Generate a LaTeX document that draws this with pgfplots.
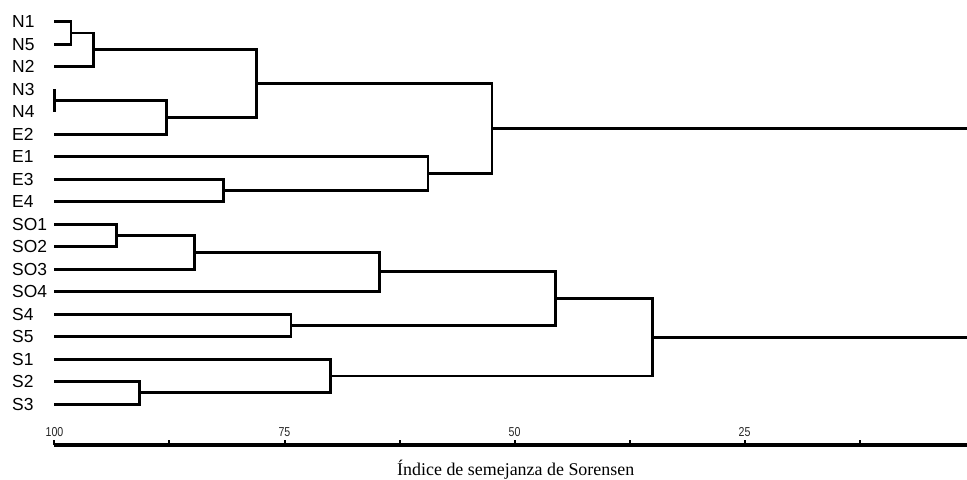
\documentclass[border=0pt]{standalone}
\usepackage{fontspec}
\setmainfont{Liberation Serif}
\newfontfamily\arial{Liberation Sans}
\usepackage{graphicx}
\usepackage{pgfplots}
\pgfplotsset{compat=1.18}
\usetikzlibrary{calc}
\pgfplotsset{dend/.style={black, solid, line width=2.9bp, mark=none, line join=miter}}
\begin{document}
\begin{tikzpicture}
\begin{axis}[
  scale only axis, width=912.5bp, height=434.5bp,
  x dir=reverse, xmin=0.82, xmax=100, ymin=-19.82, ymax=-0.5,
  clip=false,
  axis x line=bottom, axis y line=left,
  x axis line style={-, line width=4bp, black},
  y axis line style={draw=none},
  xtick={25,50,75,100},
  xticklabels={\scalebox{0.82}[1]{25},\scalebox{0.82}[1]{50},\scalebox{0.82}[1]{75},\scalebox{0.82}[1]{100}},
  minor xtick={12.5,37.5,62.5,87.5},
  tick align=inside,
  xtick style={line width=2bp, black},
  major tick length=5bp, minor tick length=5bp,
  ytick={-18,-17,-16,-15,-14,-13,-12,-11,-10,-9,-8,-7,-6,-5,-4,-3,-2,-1},
  ytick style={draw=none},
  yticklabels={S3,S2,S1,S5,S4,SO4,SO3,SO2,SO1,E4,E3,E1,E2,N4,N3,N2,N5,N1},
  yticklabel style={font=\arial\fontsize{17.5}{18}\selectfont, anchor=base west, inner sep=0pt, xshift=-42.5bp, yshift=-6.2bp},
  xticklabel style={font=\arial\fontsize{13}{13}\selectfont, anchor=base, inner sep=0pt, yshift=8.3bp, text=black!85},
  xlabel={Índice de semejanza de Sorensen},
  xlabel style={font=\fontsize{18}{20}\selectfont, at={(axis description cs:0.5,0)}, anchor=base, yshift=-30bp, xshift=5bp},
]
% N / E cluster
\addplot[dend] coordinates {(100,-1) (98.21,-1) (98.21,-2) (100,-2)};
\addplot[dend] coordinates {(98.21,-1.5) (95.78,-1.5) (95.78,-3) (100,-3)};
\addplot[dend] coordinates {(100,-4) (100,-5)};
\addplot[dend] coordinates {(100,-4.5) (87.80,-4.5) (87.80,-6) (100,-6)};
\addplot[dend] coordinates {(95.78,-2.25) (78.02,-2.25) (78.02,-5.25) (87.80,-5.25)};
\addplot[dend] coordinates {(100,-8) (81.65,-8) (81.65,-9) (100,-9)};
\addplot[dend] coordinates {(100,-7) (59.40,-7) (59.40,-8.5) (81.65,-8.5)};
\addplot[dend] coordinates {(78.02,-3.75) (52.45,-3.75) (52.45,-7.75) (59.40,-7.75)};
\addplot[dend] coordinates {(52.45,-5.75) (0.82,-5.75)};
% SO / S cluster
\addplot[dend] coordinates {(100,-10) (93.24,-10) (93.24,-11) (100,-11)};
\addplot[dend] coordinates {(93.24,-10.5) (84.80,-10.5) (84.80,-12) (100,-12)};
\addplot[dend] coordinates {(84.80,-11.25) (64.70,-11.25) (64.70,-13) (100,-13)};
\addplot[dend] coordinates {(100,-14) (74.29,-14) (74.29,-15) (100,-15)};
\addplot[dend] coordinates {(64.70,-12.125) (45.52,-12.125) (45.52,-14.5) (74.29,-14.5)};
\addplot[dend] coordinates {(100,-17) (90.78,-17) (90.78,-18) (100,-18)};
\addplot[dend] coordinates {(100,-16) (69.98,-16) (69.98,-17.5) (90.78,-17.5)};
\addplot[dend] coordinates {(45.52,-13.3125) (35.02,-13.3125) (35.02,-16.75) (69.98,-16.75)};
\addplot[dend] coordinates {(35.02,-15.03) (0.82,-15.03)};
\end{axis}
\pgfresetboundingbox
\path[use as bounding box] ($(current axis.south west)+(-54.5bp,-35bp)$) rectangle ($(current axis.north east)+(0bp,10.5bp)$);
\end{tikzpicture}
\end{document}
